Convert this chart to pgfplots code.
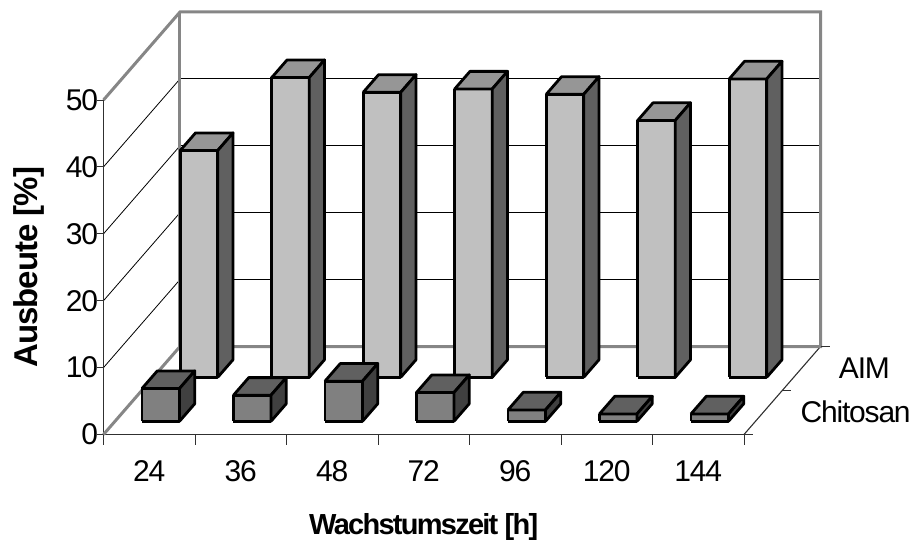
\documentclass[border=0pt]{standalone}
\usepackage{pgfplots}
\pgfplotsset{compat=1.18}
\usepackage{fontspec}
\setmainfont{Liberation Sans}
\newfontfamily\tightreg[LetterSpace=-4]{Liberation Sans}
\newfontfamily\tightbold[LetterSpace=-6]{Liberation Sans Bold}
\newfontfamily\tightboldb[LetterSpace=-3]{Liberation Sans Bold}
\definecolor{aF}{HTML}{C0C0C0}\definecolor{aT}{HTML}{969696}\definecolor{aS}{HTML}{606060}
\definecolor{cF}{HTML}{808080}\definecolor{cT}{HTML}{606060}\definecolor{cS}{HTML}{404040}
\definecolor{wall}{HTML}{868686}
\definecolor{tickc}{HTML}{303030}
% x1 x2 y1 y2 value front top side
\newcommand\bbar[8]{%
 \addplot3[fill=#6,draw=black,line width=2.8pt,line join=round,no marks] coordinates {(#1,#3,0) (#2,#3,0) (#2,#3,#5) (#1,#3,#5) (#1,#3,0)};
 \addplot3[fill=#7,draw=black,line width=2.8pt,line join=round,no marks] coordinates {(#1,#3,#5) (#2,#3,#5) (#2,#4,#5) (#1,#4,#5) (#1,#3,#5)};
 \addplot3[fill=#8,draw=black,line width=2.8pt,line join=round,no marks] coordinates {(#2,#3,0) (#2,#4,0) (#2,#4,#5) (#2,#3,#5) (#2,#3,0)};
}
\newcommand\tk[2]{\addplot3[tickc,line width=0.9pt,no marks] coordinates {#1 #2};}
\begin{document}
\begin{tikzpicture}
\begin{axis}[
 x={(91.5pt,0pt)}, y={(76.5pt,88pt)}, z={(0pt,6.69pt)},
 xmin=0,xmax=7,ymin=0,ymax=1,zmin=0,zmax=50,
 clip=false,
 xtick={0,1,2,3,4,5,6,7}, x tick label as interval,
 xticklabels={24,36,48,72,96,120,144},
 ytick={0,0.5,1}, y tick label as interval,
 yticklabels={Chitosan,AIM},
 ztick={0,10,20,30,40,50},
 zmajorgrids=true, grid style={black,line width=0.8pt},
 major tick length=0pt,
 axis line style={tickc,line width=1.1pt},
 /pgf/number format/assume math mode=true,
 tick label style={font=\fontsize{30}{34}\tightreg},
 xticklabel style={anchor=base,yshift=-47pt},
 zticklabel style={anchor=east,xshift=-2pt},
 yticklabel style={anchor=base west,xshift=34pt,yshift=-9.5pt},
 xlabel={\fontsize{29}{32}\tightbold Wachstumszeit [h]},
 zlabel={\fontsize{33}{36}\tightboldb Ausbeute [\%]},
 every axis x label/.style={at={(axis cs:3.5,0,0)},anchor=base,yshift=-100pt},
 every axis z label/.style={at={(axis cs:0,0,25)},anchor=base,rotate=90,yshift=66pt},
]
\coordinate (O) at (axis cs:0,0,0);
% grey walls
\addplot3[wall,line width=3pt,no marks] coordinates {(0,0,0) (0,1,0) (7,1,0) (7,1,50) (0,1,50) (0,0,50)};
\addplot3[wall,line width=3pt,no marks] coordinates {(0,1,0) (0,1,50)};
% ticks
\tk{(0,0,0)}{(0,0,-1.5)}\tk{(1,0,0)}{(1,0,-1.5)}\tk{(2,0,0)}{(2,0,-1.5)}\tk{(3,0,0)}{(3,0,-1.5)}
\tk{(4,0,0)}{(4,0,-1.5)}\tk{(5,0,0)}{(5,0,-1.5)}\tk{(6,0,0)}{(6,0,-1.5)}\tk{(7,0,0)}{(7,0,-1.5)}
\tk{(0,0,0)}{(-0.07,0,0)}\tk{(0,0,10)}{(-0.07,0,10)}\tk{(0,0,20)}{(-0.07,0,20)}
\tk{(0,0,30)}{(-0.07,0,30)}\tk{(0,0,40)}{(-0.07,0,40)}\tk{(0,0,50)}{(-0.07,0,50)}
\tk{(7,0,0)}{(7.1,0,0)}\tk{(7,0.5,0)}{(7.1,0.5,0)}\tk{(7,1,0)}{(7.1,1,0)}
% AIM
\bbar{0.295}{0.705}{0.65}{0.85}{33.9}{aF}{aT}{aS}
\bbar{1.295}{1.705}{0.65}{0.85}{44.8}{aF}{aT}{aS}
\bbar{2.295}{2.705}{0.65}{0.85}{42.6}{aF}{aT}{aS}
\bbar{3.295}{3.705}{0.65}{0.85}{43.1}{aF}{aT}{aS}
\bbar{4.295}{4.705}{0.65}{0.85}{42.3}{aF}{aT}{aS}
\bbar{5.295}{5.705}{0.65}{0.85}{38.4}{aF}{aT}{aS}
\bbar{6.295}{6.705}{0.65}{0.85}{44.6}{aF}{aT}{aS}
% Chitosan
\bbar{0.295}{0.705}{0.15}{0.35}{4.9}{cF}{cT}{cS}
\bbar{1.295}{1.705}{0.15}{0.35}{3.9}{cF}{cT}{cS}
\bbar{2.295}{2.705}{0.15}{0.35}{6.0}{cF}{cT}{cS}
\bbar{3.295}{3.705}{0.15}{0.35}{4.3}{cF}{cT}{cS}
\bbar{4.295}{4.705}{0.15}{0.35}{1.7}{cF}{cT}{cS}
\bbar{5.295}{5.705}{0.15}{0.35}{1.1}{cF}{cT}{cS}
\bbar{6.295}{6.705}{0.15}{0.35}{1.1}{cF}{cT}{cS}
\end{axis}
\pgfresetboundingbox
\path[use as bounding box] ([shift={(-103.5pt,-104.5pt)}]O) rectangle ([shift={(809.5pt,434.5pt)}]O);
\end{tikzpicture}
\end{document}
